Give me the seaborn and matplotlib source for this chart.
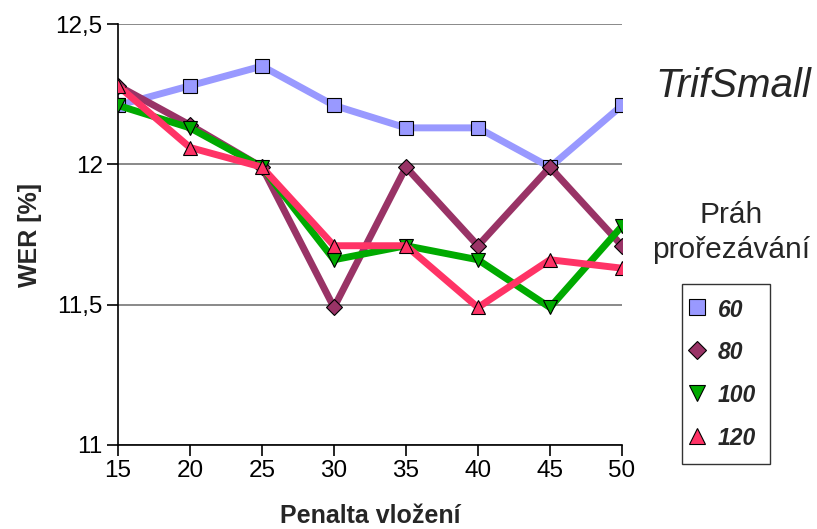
import matplotlib
matplotlib.use("Agg")
import matplotlib.pyplot as plt
from matplotlib.lines import Line2D
import seaborn as sns
import pandas as pd

# Penalty values on the x axis
penalty = [15, 20, 25, 30, 35, 40, 45, 50]

# WER [%] for each pruning threshold
wer_60 = [12.21, 12.28, 12.35, 12.21, 12.13, 12.13, 11.99, 12.21]
wer_80 = [12.28, 12.14, 11.99, 11.49, 11.99, 11.71, 11.99, 11.71]
wer_100 = [12.21, 12.13, 11.99, 11.66, 11.71, 11.66, 11.49, 11.78]
wer_120 = [12.28, 12.06, 11.99, 11.71, 11.71, 11.49, 11.66, 11.63]

thresholds = ["60", "80", "100", "120"]
y_ticks = [11, 11.5, 12, 12.5]
y_tick_labels = ["11", "11,5", "12", "12,5"]

colors = {"60": "#9999FF", "80": "#993366", "100": "#00AA00", "120": "#FF3366"}
markers = {"60": "s", "80": "D", "100": "v", "120": "^"}
msizes = {"60": 10.5, "80": 8.5, "100": 10.5, "120": 10.5}

series = {"60": wer_60, "80": wer_80, "100": wer_100, "120": wer_120}
df = pd.concat(
    [pd.DataFrame({"penalta": penalty, "wer": series[t], "prah": t}) for t in thresholds],
    ignore_index=True,
)

sns.set_theme(style="white")
plt.rcParams["font.family"] = ["Liberation Sans", "DejaVu Sans"]

fig = plt.figure(figsize=(8.17, 5.29), dpi=100)
ax = fig.add_axes([0.1444, 0.1588, 0.6169, 0.7958])

for t in thresholds:
    sub = df[df["prah"] == t]
    sns.lineplot(
        data=sub, x="penalta", y="wer", ax=ax, color=colors[t],
        marker=markers[t], markersize=msizes[t], markeredgecolor="black",
        markeredgewidth=0.8, linewidth=5, legend=False, zorder=3,
    )

ax.set_xlim(15, 50)
ax.set_ylim(11, 12.5)
ax.set_xticks(penalty)
ax.set_xticklabels([str(p) for p in penalty], fontsize=17.5)
ax.set_yticks(y_ticks)
ax.set_yticklabels(y_tick_labels, fontsize=17.5)
ax.yaxis.grid(True, color="#808080", linewidth=1.3, zorder=0)
ax.xaxis.grid(False)
ax.set_axisbelow(True)
for side in ["top", "right"]:
    ax.spines[side].set_visible(False)
for side in ["left", "bottom"]:
    ax.spines[side].set_color("black")
    ax.spines[side].set_linewidth(1.2)
    ax.spines[side].set_clip_on(False)
ax.tick_params(axis="both", direction="out", length=8, width=1.2, color="black",
               bottom=True, left=True, pad=3, labelcolor="black")

ax.set_xlabel("Penalta vložení", fontsize=18, fontweight="bold", labelpad=15.5)
ax.set_ylabel("WER [%]", fontsize=18, fontweight="bold", labelpad=10)

fig.text(0.897, 0.837, "TrifSmall", fontsize=29, fontstyle="italic",
         ha="center", va="center")
fig.text(0.895, 0.561, "Práh\nprořezávání", fontsize=21.5, ha="center",
         va="center", linespacing=1.3)

handles = [
    Line2D([0], [0], linestyle="none", marker=markers[t], color=colors[t],
           markeredgecolor="black", markeredgewidth=0.8,
           markersize=msizes[t] + 0.5)
    for t in thresholds
]
leg = fig.legend(
    handles, thresholds, loc="upper left", bbox_to_anchor=(0.8348, 0.463),
    frameon=True, fancybox=False, edgecolor="black", handlelength=0.1,
    handleheight=1.1, handletextpad=0.85, labelspacing=0.83, borderpad=0.6,
    borderaxespad=0, prop={"size": 16.5, "weight": "bold", "style": "italic"},
)
leg.get_frame().set_linewidth(1.0)

fig.savefig("out.png", dpi=100)
